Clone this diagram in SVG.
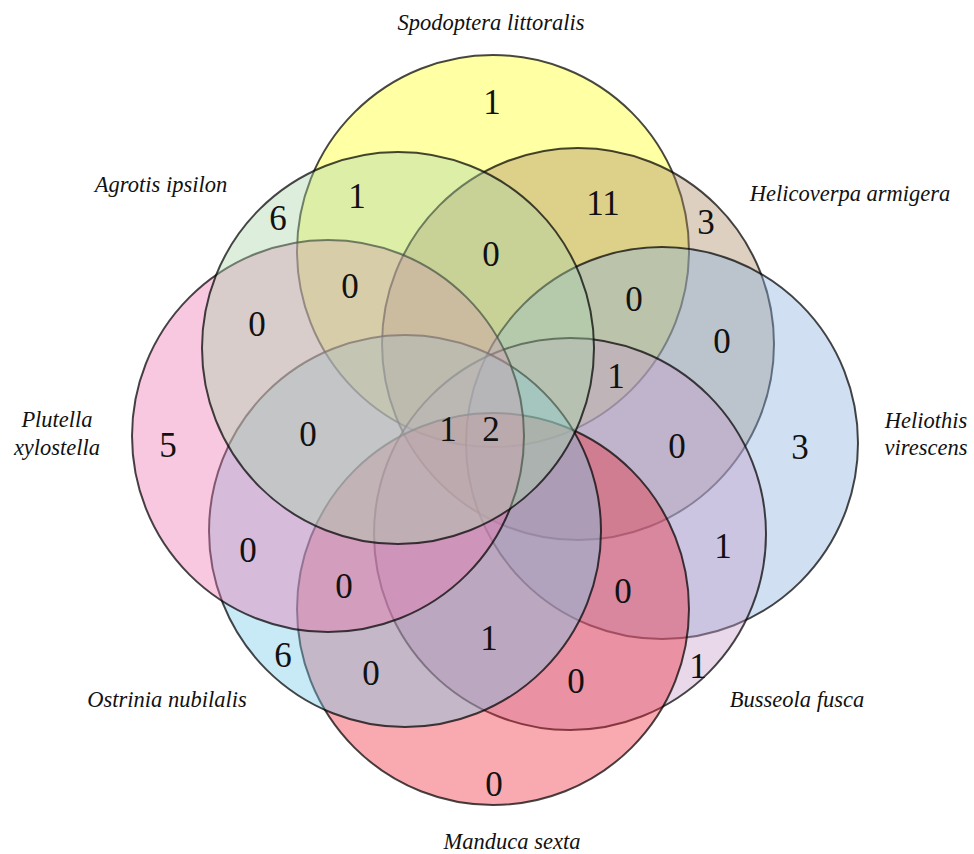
<svg xmlns="http://www.w3.org/2000/svg" width="974" height="854" viewBox="0 0 974 854">
<style>
.c{stroke:#000;stroke-width:2;stroke-opacity:0.72;fill-opacity:0.4}
.lab{font-family:"Liberation Serif","DejaVu Serif",serif;font-style:italic;font-size:22.5px;fill:#111;text-anchor:middle}
.n{font-family:"Liberation Serif","DejaVu Serif",serif;font-size:35px;fill:#111;text-anchor:middle}
</style>
<rect width="974" height="854" fill="#fff"/>
<g id="spodoptera"><circle class="c" cx="493" cy="251" r="196" fill="#ffff19"/><text class="lab" x="491" y="30">Spodoptera littoralis</text></g>
<g id="helicoverpa"><circle class="c" cx="578" cy="344" r="196" fill="#aa8961"/><text class="lab" x="850" y="201">Helicoverpa armigera</text></g>
<g id="heliothis"><circle class="c" cx="662" cy="443" r="196" fill="#89b1de"/><text class="lab" x="926" y="428">Heliothis</text><text class="lab" x="926" y="455">virescens</text></g>
<g id="busseola"><circle class="c" cx="570" cy="534" r="196" fill="#c59dca"/><text class="lab" x="797" y="707">Busseola fusca</text></g>
<g id="manduca"><circle class="c" cx="493" cy="609" r="196" fill="#ed2b39"/><text class="lab" x="512" y="849">Manduca sexta</text></g>
<g id="ostrinia"><circle class="c" cx="405" cy="531" r="196" fill="#75caeb"/><text class="lab" x="167" y="707">Ostrinia nubilalis</text></g>
<g id="plutella"><circle class="c" cx="328" cy="436" r="196" fill="#eb75b1"/><text class="lab" x="57" y="427">Plutella</text><text class="lab" x="57" y="455">xylostella</text></g>
<g id="agrotis"><circle class="c" cx="398" cy="348" r="196" fill="#aad4aa"/><text class="lab" x="161" y="192">Agrotis ipsilon</text></g>
<g id="connectors"></g>
<g id="counts">
<text class="n" x="492" y="114">1</text>
<text class="n" x="357" y="208">1</text>
<text class="n" x="603" y="215">11</text>
<text class="n" x="278" y="230">6</text>
<text class="n" x="706" y="234">3</text>
<text class="n" x="491" y="266">0</text>
<text class="n" x="350" y="298">0</text>
<text class="n" x="257" y="336">0</text>
<text class="n" x="634" y="311">0</text>
<text class="n" x="722" y="353">0</text>
<text class="n" x="616" y="388">1</text>
<text class="n" x="168" y="457">5</text>
<text class="n" x="308" y="446">0</text>
<text class="n" x="448" y="441">1</text>
<text class="n" x="491" y="441">2</text>
<text class="n" x="677" y="458">0</text>
<text class="n" x="800" y="459">3</text>
<text class="n" x="248" y="562">0</text>
<text class="n" x="723" y="558">1</text>
<text class="n" x="344" y="598">0</text>
<text class="n" x="623" y="603">0</text>
<text class="n" x="283" y="667">6</text>
<text class="n" x="489" y="650">1</text>
<text class="n" x="371" y="685">0</text>
<text class="n" x="698" y="678">1</text>
<text class="n" x="576" y="693">0</text>
<text class="n" x="494" y="796">0</text>
</g>
</svg>
